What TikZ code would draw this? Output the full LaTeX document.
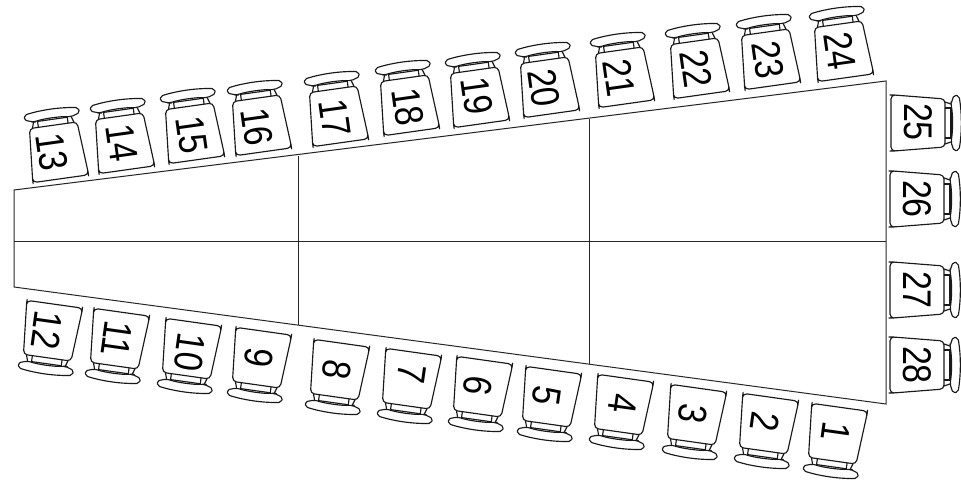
\documentclass[tikz,border=0pt]{standalone}
\usepackage{fontspec}
\setmainfont{Liberation Sans}
\newcommand{\seatshape}{%
  \draw[seatline,rounded corners=4pt] (-24,-27) -- (24,-27) -- (28,24) -- (28,27) -- (-28,27) -- (-28,24) -- cycle;
  \draw[seatline] (-15,-27) -- (-15,-33) -- (15,-33) -- (15,-27);
  \draw[seatline] (-21,-27) -- (-19,-33) (21,-27) -- (19,-33);
  \draw[seatline,rounded corners=2pt] (-19,-33) -- (-28,-36) -- (-27,-41) .. controls (-10,-44) and (10,-44) .. (27,-41) -- (28,-36) -- (19,-33) .. controls (8,-35) and (-8,-35) .. cycle;
}
\tikzset{
  seatline/.style={draw=black!90,line width=1.15pt,line join=round},
  tableline/.style={draw=black!85,line width=1pt},
  seatnum/.style={inner sep=0pt,text=black,font=\fontsize{40}{40}\selectfont}
}
\begin{document}
\begin{tikzpicture}[x=1pt,y=-1pt]
\useasboundingbox (0,0) rectangle (961,481);
% table
\coordinate (tl) at (14,190);
\coordinate (tr) at (886,81);
\coordinate (br) at (886,404);
\coordinate (bl) at (14,287);
\coordinate (ml) at (14,241);
\coordinate (mr) at (886,241);
\coordinate (at) at (298,156);
\coordinate (ab) at (298,325);
\coordinate (ct) at (589,119);
\coordinate (cb) at (589,364);
\draw[tableline] (tl) -- (tr) -- (br) -- (bl) -- cycle;
\draw[tableline] (ml) -- (mr);
\draw[tableline] (at) -- (ab);
\draw[tableline] (ct) -- (cb);
% seats: number / body x,y / text x,y / rotation of seat / rotation of text
\foreach \n/\bx/\by/\tx/\ty/\r/\t in {
 13/57/152/52/152/8/-82, 14/123/143/122/143/8/-82, 15/193/133/192/135/8/-82, 16/260/125/257/127/8/-82,
 17/337/116/335/118/8/-82, 18/408/105/408/107/8/-82, 19/478/97/477/96/8/-82, 20/548/87/544/88/8/-82,
 21/623/77/619/78/8/-82, 22/698/68/696/69/8/-82, 23/769/59/768/60/8/-82, 24/842/51/840/51/8/-82,
 12/51/331/47/330/172/-98, 11/118/339/117/339/172/-98, 10/190/349/190/352/172/-98, 9/260/358/259/358/172/-98,
 8/338/370/337/370/172/-98, 7/410/379/412/374/172/-98, 6/481/387/478/386/172/-98, 5/550/397/547/396/172/-98,
 4/622/405/623/404/172/-98, 3/695/415/693/414/172/-98, 2/767/424/765/422/172/-98, 1/836/434/836/432/172/-98,
 25/918/123/918/122/-90/-90, 26/917/199/917/199/-90/-90, 27/917/290/917/290/-90/-90, 28/917/365/917/365/-90/-90}
{
  \begin{scope}[shift={(\bx,\by)},rotate=\r]
    \seatshape
  \end{scope}
  \node[seatnum,rotate=\t] (n\n) at (\tx,\ty) {\scalebox{.85}[1]{\n}};
}
\end{tikzpicture}
\end{document}
